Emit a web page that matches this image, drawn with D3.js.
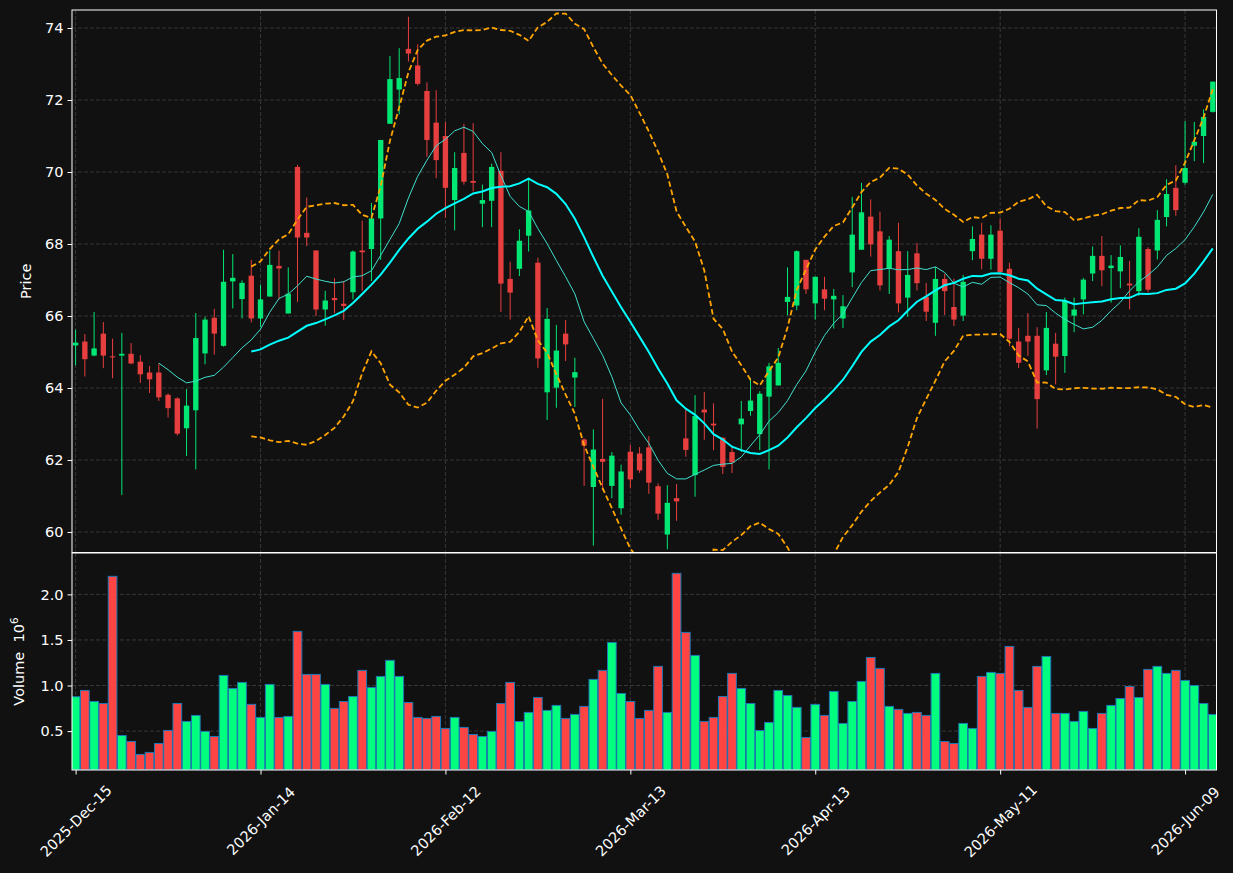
<!DOCTYPE html>
<html>
<head>
<meta charset="utf-8">
<script src="https://cdn.jsdelivr.net/npm/d3@7"></script>
<style>
  html, body { margin: 0; padding: 0; background: #111111; }
  svg { display: block; font-family: "DejaVu Sans", sans-serif; }
</style>
</head>
<body>
<div id="chart"></div>
<script>
// daily bars, index 0..123 (trading days)
var opens = [65.18,65.29,64.90,65.51,64.88,64.90,64.95,64.73,64.43,64.43,
  63.81,63.71,62.88,63.38,64.96,65.95,65.17,66.96,66.47,67.12,
  65.93,66.54,67.39,66.07,70.14,68.31,67.82,66.18,66.50,66.34,
  66.66,67.82,67.86,68.71,71.34,72.29,73.42,72.96,72.25,71.37,
  71.00,69.22,70.53,69.75,69.12,69.20,70.03,67.03,67.31,68.23,
  67.48,63.88,64.01,65.51,64.29,62.57,61.25,62.03,61.28,60.66,
  62.23,62.18,62.35,61.27,59.93,60.94,62.60,61.58,63.40,63.01,
  62.62,62.22,62.99,63.36,62.72,63.76,64.07,66.39,66.29,67.56,
  66.35,66.74,66.46,65.93,67.21,67.84,68.76,68.35,67.33,67.80,
  66.51,67.74,66.53,65.81,67.03,66.25,66.01,67.80,68.26,67.59,
  68.37,67.31,65.29,65.45,65.45,64.49,65.23,64.89,66.01,66.46,
  67.18,67.67,67.33,67.24,66.90,66.69,67.86,67.82,68.75,69.56,
  69.70,70.73,71.00,71.67];
var highs = [65.62,65.50,66.11,65.83,65.37,65.53,65.25,64.91,64.61,64.68,
  63.85,63.74,63.97,66.08,65.98,66.20,67.84,67.72,66.99,67.56,
  66.87,67.82,67.82,67.35,70.20,69.29,67.82,66.70,67.05,66.97,
  67.82,68.65,69.14,70.89,73.22,73.44,74.31,73.55,72.49,72.27,
  71.39,70.55,71.34,71.36,69.65,70.23,70.55,67.51,68.41,69.82,
  67.62,66.22,65.75,65.89,64.84,62.60,62.85,63.70,62.22,61.87,
  62.41,62.36,62.66,61.35,61.30,61.33,63.43,63.80,63.89,63.57,
  62.62,62.36,63.64,64.28,63.91,64.70,65.11,67.35,67.82,67.56,
  67.09,67.09,66.75,66.58,69.31,69.70,69.24,68.90,68.22,68.59,
  67.80,68.03,66.92,67.36,67.17,67.04,67.14,68.49,68.59,68.52,
  68.71,67.48,65.67,66.08,65.69,66.11,65.53,66.51,66.51,67.06,
  67.93,68.22,67.69,67.96,67.53,68.44,67.91,68.94,69.80,70.19,
  71.41,71.39,71.74,72.51];
var lows = [64.63,64.32,64.88,64.55,64.27,61.03,64.66,64.14,63.86,63.64,
  63.18,62.68,62.11,61.74,64.66,64.93,65.15,66.21,65.93,65.82,
  65.69,66.54,66.46,66.07,66.39,67.94,66.00,65.73,66.08,65.89,
  66.46,66.70,66.97,67.56,71.34,71.60,73.07,72.40,70.42,69.83,
  68.73,68.38,69.65,69.46,68.47,68.47,66.11,65.90,67.11,67.79,
  64.56,63.11,63.45,64.75,63.47,61.28,59.62,61.16,60.94,60.48,
  61.21,61.64,61.06,60.34,59.52,60.31,62.09,60.98,62.56,62.27,
  61.61,61.64,62.22,63.23,62.27,61.74,64.07,66.02,66.16,66.61,
  65.90,66.16,65.65,65.67,66.80,67.84,67.65,66.71,66.61,66.10,
  65.98,66.71,65.86,65.45,66.03,65.72,65.86,67.55,67.30,67.29,
  67.22,65.16,64.55,64.89,62.87,64.36,64.10,64.42,65.55,66.05,
  66.97,66.83,66.37,66.77,66.18,66.56,66.66,67.57,68.49,68.78,
  69.65,70.30,70.25,71.65];
var closes = [65.26,64.80,65.10,64.90,64.85,64.95,64.68,64.38,64.24,63.74,
  63.44,62.73,63.51,65.39,65.90,65.51,66.95,67.06,66.92,65.93,
  66.46,67.42,67.32,66.62,68.18,68.18,66.18,66.43,66.44,66.28,
  67.79,67.77,68.71,70.89,72.58,72.61,73.29,72.45,70.89,70.33,
  69.56,70.11,69.73,69.70,69.22,70.14,66.90,66.65,68.09,68.93,
  64.82,65.92,65.04,65.21,64.44,62.40,62.29,61.95,62.12,61.68,
  61.46,61.71,61.37,60.51,60.81,60.85,62.28,63.22,63.32,62.96,
  61.81,61.93,63.15,63.65,63.84,64.60,64.70,66.53,67.80,66.74,
  67.09,66.48,66.56,66.27,68.26,68.88,67.99,66.85,68.12,66.35,
  67.14,66.91,66.12,67.03,66.69,65.90,66.95,68.14,67.59,68.26,
  67.22,65.37,64.70,65.29,63.69,65.67,64.87,66.42,66.18,67.01,
  67.67,67.27,67.40,67.64,66.85,68.20,66.73,68.67,69.39,68.94,
  70.11,70.84,71.53,72.51];
// volume in millions
var volumes = [0.877,0.946,0.825,0.803,2.198,0.452,0.386,0.244,0.266,0.364,
  0.507,0.803,0.606,0.672,0.496,0.441,1.111,0.968,1.034,0.793,
  0.650,1.012,0.650,0.661,1.594,1.122,1.122,1.012,0.749,0.825,
  0.880,1.166,0.979,1.100,1.276,1.100,0.814,0.650,0.639,0.661,
  0.529,0.650,0.540,0.463,0.441,0.496,0.803,1.034,0.606,0.705,
  0.869,0.727,0.782,0.639,0.683,0.771,1.067,1.166,1.473,0.913,
  0.825,0.639,0.727,1.210,0.705,2.231,1.583,1.330,0.606,0.650,
  0.880,1.133,0.968,0.803,0.507,0.595,0.946,0.891,0.760,0.430,
  0.793,0.672,0.935,0.584,0.825,1.045,1.308,1.188,0.771,0.738,
  0.694,0.705,0.672,1.133,0.386,0.364,0.584,0.529,1.100,1.144,
  1.133,1.429,0.946,0.760,1.210,1.319,0.694,0.694,0.606,0.716,
  0.529,0.694,0.782,0.858,0.990,0.869,1.177,1.210,1.133,1.166,
  1.056,1.001,0.803,0.683];

var tickIdx = [0, 20, 40, 60, 80, 100, 120];
var tickLabels = ["2025-Dec-15", "2026-Jan-14", "2026-Feb-12", "2026-Mar-13",
  "2026-Apr-13", "2026-May-11", "2026-Jun-09"];
var priceTicks = [60, 62, 64, 66, 68, 70, 72, 74];
var volTicks = [0.5, 1.0, 1.5, 2.0];

// colours
var upColor = "#00ff7f", downColor = "#ff4444";
var bg = "#111111", fg = "#ffffff", gridColor = "#3c3c3c";
var fontSize = 14.5;

var width = 1233, height = 873;
var left = 72, right = 1216.5;
var pTop = 10, pBottom = 552.5, vTop = 553, vBottom = 770;

var svg = d3.select("#chart").append("svg")
    .attr("width", width).attr("height", height);
svg.append("rect").attr("width", width).attr("height", height).attr("fill", bg);

var n = closes.length;
var x = d3.scaleLinear().domain([-0.39, n - 1 + 0.4]).range([left, right]);
var y = d3.scaleLinear().domain([59.43, 74.5]).range([pBottom, pTop]);
var yv = d3.scaleLinear().domain([0.3 * d3.min(volumes), 1.1 * d3.max(volumes)]).range([vBottom, vTop]);
var step = x(1) - x(0);

var defs = svg.append("defs");
defs.append("clipPath").attr("id", "clipP").append("rect")
    .attr("x", left).attr("y", pTop).attr("width", right - left).attr("height", pBottom - pTop);
defs.append("clipPath").attr("id", "clipV").append("rect")
    .attr("x", left).attr("y", vTop).attr("width", right - left).attr("height", vBottom - vTop);

// grids
function grid(g, ys, scale, y0, y1) {
    g.selectAll("line.h").data(ys).enter().append("line")
        .attr("x1", left).attr("x2", right)
        .attr("y1", d => scale(d)).attr("y2", d => scale(d))
        .attr("stroke", gridColor).attr("stroke-width", 0.9).attr("stroke-dasharray", "4,2");
    g.selectAll("line.v").data(tickIdx).enter().append("line")
        .attr("x1", d => x(d)).attr("x2", d => x(d))
        .attr("y1", y0).attr("y2", y1)
        .attr("stroke", gridColor).attr("stroke-width", 0.9).attr("stroke-dasharray", "4,2");
}
grid(svg.append("g"), priceTicks, y, pTop, pBottom);
grid(svg.append("g"), volTicks, yv, vTop, vBottom);

// moving averages + bollinger
function sma(arr, w) {
    return arr.map((d, i) => i < w - 1 ? null : d3.mean(arr.slice(i - w + 1, i + 1)));
}
var ma10 = sma(closes, 10);
var ma20 = sma(closes, 20);
var upper = [], lower = [];
closes.forEach(function(d, i) {
    if (i < 19) { upper.push(null); lower.push(null); return; }
    var s = d3.deviation(closes.slice(i - 19, i + 1));
    upper.push(ma20[i] + 2 * s);
    lower.push(ma20[i] - 2 * s);
});

var pg = svg.append("g").attr("clip-path", "url(#clipP)");

// candles
var candles = pg.selectAll("g.candle").data(closes.map((c, i) => i)).enter()
    .append("g").attr("opacity", 0.9);
candles.append("line")
    .attr("x1", i => x(i)).attr("x2", i => x(i))
    .attr("y1", i => y(highs[i])).attr("y2", i => y(lows[i]))
    .attr("stroke", i => closes[i] >= opens[i] ? upColor : downColor)
    .attr("stroke-width", 1);
candles.append("rect")
    .attr("x", i => x(i) - step * 0.29)
    .attr("width", step * 0.58)
    .attr("y", i => y(Math.max(opens[i], closes[i])))
    .attr("height", i => Math.max(1, Math.abs(y(opens[i]) - y(closes[i]))))
    .attr("fill", i => closes[i] >= opens[i] ? upColor : downColor);

var line = d3.line().defined(d => d[1] != null).x(d => x(d[0])).y(d => y(d[1]));
function series(arr) { return arr.map((d, i) => [i, d]); }

pg.append("path").datum(series(ma10)).attr("d", line)
    .attr("fill", "none").attr("stroke", "#40e0d0").attr("stroke-width", 1);
pg.append("path").datum(series(ma20)).attr("d", line)
    .attr("fill", "none").attr("stroke", "#00ffff").attr("stroke-width", 2);
[upper, lower].forEach(function(b) {
    pg.append("path").datum(series(b)).attr("d", line)
        .attr("fill", "none").attr("stroke", "#ffa500").attr("stroke-width", 1.8)
        .attr("stroke-dasharray", "5.5,3");
});

// volume
var vg = svg.append("g").attr("clip-path", "url(#clipV)");
vg.selectAll("rect").data(volumes).enter().append("rect")
    .attr("x", (d, i) => x(i) - step * 0.47)
    .attr("width", step * 0.94)
    .attr("y", d => yv(d))
    .attr("height", d => vBottom - yv(d))
    .attr("fill", (d, i) => closes[i] >= opens[i] ? upColor : downColor)
    .attr("stroke", "#1f77b4").attr("stroke-width", 1);

// frames
svg.append("rect").attr("x", left).attr("y", pTop).attr("width", right - left).attr("height", pBottom - pTop)
    .attr("fill", "none").attr("stroke", fg).attr("stroke-width", 1);
svg.append("rect").attr("x", left).attr("y", vTop).attr("width", right - left).attr("height", vBottom - vTop)
    .attr("fill", "none").attr("stroke", fg).attr("stroke-width", 1);

// axes
function styleAxis(g) {
    g.attr("font-size", fontSize).attr("font-family", "DejaVu Sans");
    g.select(".domain").remove();
    g.selectAll(".tick line").attr("stroke", fg);
    g.selectAll(".tick text").attr("fill", fg)
        .style("font-size", fontSize + "px").style("font-family", "DejaVu Sans");
}
svg.append("g").attr("transform", "translate(" + left + ",0)")
    .call(d3.axisLeft(y).tickValues(priceTicks).tickSize(4.5).tickPadding(4).tickFormat(d3.format("d")))
    .call(styleAxis);
svg.append("g").attr("transform", "translate(" + left + ",0)")
    .call(d3.axisLeft(yv).tickValues(volTicks).tickSize(4.5).tickPadding(4).tickFormat(d3.format(".1f")))
    .call(styleAxis);
var xa = svg.append("g").attr("transform", "translate(0," + vBottom + ")")
    .call(d3.axisBottom(x).tickValues(tickIdx).tickSize(4.5).tickFormat((d, i) => tickLabels[i]))
    .call(styleAxis);
xa.selectAll(".tick text")
    .attr("y", 0).attr("dy", null)
    .attr("text-anchor", "middle")
    .attr("dominant-baseline", "central")
    .attr("transform", "translate(0,51) rotate(-45)");

// axis labels
svg.append("text")
    .attr("transform", "translate(31," + ((pTop + pBottom) / 2) + ") rotate(-90)")
    .attr("text-anchor", "middle").attr("fill", fg).style("font-size", fontSize + "px")
    .text("Price");
var vl = svg.append("text")
    .attr("transform", "translate(24," + ((vTop + vBottom) / 2) + ") rotate(-90)")
    .attr("text-anchor", "middle").attr("fill", fg).style("font-size", fontSize + "px")
    .style("white-space", "pre");
vl.append("tspan").text("Volume\u00a0\u00a010");
vl.append("tspan").attr("dy", -6).style("font-size", "10.5px").text("6");
</script>
</body>
</html>
